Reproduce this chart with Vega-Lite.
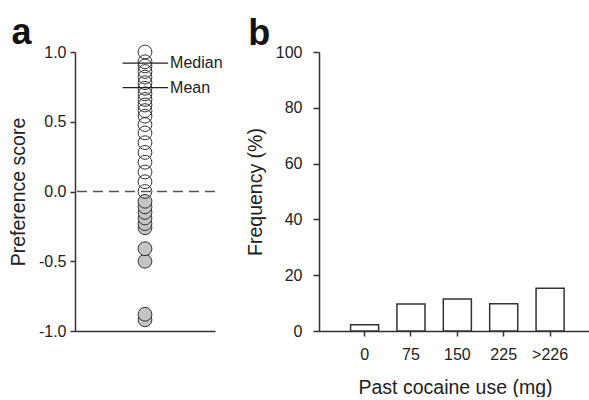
{
  "$schema": "https://vega.github.io/schema/vega-lite/v6.json",
  "padding": {"left": 8, "top": 15, "right": 0, "bottom": 0},
  "spacing": 22,
  "config": {
    "font": "Liberation Sans",
    "view": {"stroke": null},
    "locale": {"number": {"decimal": ".", "thousands": ",", "grouping": [3], "currency": ["$", ""], "minus": "-"}},
    "axis": {
      "grid": false,
      "domainColor": "#333333",
      "tickColor": "#333333",
      "domainWidth": 1.5,
      "tickWidth": 1.5,
      "tickSize": 5,
      "labelPadding": 4,
      "labelColor": "#222222",
      "titleColor": "#222222",
      "labelFontSize": 16,
      "titleFontSize": 19.5,
      "titleFontWeight": "normal"
    },
    "title": {"fontSize": 36, "fontWeight": "bold", "anchor": "start", "frame": "bounds", "color": "#111111", "baseline": "alphabetic", "offset": -9, "dx": 3}
  },
  "hconcat": [
    {
      "title": {"text": "a"},
      "width": 140,
      "height": 279,
      "layer": [
        {
          "data": {"values": [{"zero": 0}]},
          "mark": {"type": "rule", "stroke": "#555555", "strokeWidth": 1.5, "strokeDash": [10, 6]},
          "encoding": {"y": {"field": "zero", "type": "quantitative"}}
        },
        {
          "data": {"values": [
            {"grp": 1, "score": -0.92, "sign": "neg"},
            {"grp": 1, "score": -0.88, "sign": "neg"},
            {"grp": 1, "score": -0.50, "sign": "neg"},
            {"grp": 1, "score": -0.41, "sign": "neg"},
            {"grp": 1, "score": -0.26, "sign": "neg"},
            {"grp": 1, "score": -0.23, "sign": "neg"},
            {"grp": 1, "score": -0.19, "sign": "neg"},
            {"grp": 1, "score": -0.15, "sign": "neg"},
            {"grp": 1, "score": -0.11, "sign": "neg"},
            {"grp": 1, "score": -0.07, "sign": "neg"},
            {"grp": 1, "score": 0.0, "sign": "pos"},
            {"grp": 1, "score": 0.07, "sign": "pos"},
            {"grp": 1, "score": 0.14, "sign": "pos"},
            {"grp": 1, "score": 0.21, "sign": "pos"},
            {"grp": 1, "score": 0.28, "sign": "pos"},
            {"grp": 1, "score": 0.35, "sign": "pos"},
            {"grp": 1, "score": 0.42, "sign": "pos"},
            {"grp": 1, "score": 0.48, "sign": "pos"},
            {"grp": 1, "score": 0.54, "sign": "pos"},
            {"grp": 1, "score": 0.58, "sign": "pos"},
            {"grp": 1, "score": 0.62, "sign": "pos"},
            {"grp": 1, "score": 0.66, "sign": "pos"},
            {"grp": 1, "score": 0.70, "sign": "pos"},
            {"grp": 1, "score": 0.74, "sign": "pos"},
            {"grp": 1, "score": 0.78, "sign": "pos"},
            {"grp": 1, "score": 0.82, "sign": "pos"},
            {"grp": 1, "score": 0.86, "sign": "pos"},
            {"grp": 1, "score": 0.90, "sign": "pos"},
            {"grp": 1, "score": 0.93, "sign": "pos"},
            {"grp": 1, "score": 1.0, "sign": "pos"}
          ]},
          "mark": {"type": "circle", "size": 190, "stroke": "#333333", "strokeWidth": 1, "opacity": 1},
          "encoding": {
            "x": {"field": "grp", "type": "quantitative", "scale": {"domain": [0, 2]}, "axis": {"labels": false, "ticks": false, "title": null}},
            "y": {"field": "score", "type": "quantitative", "scale": {"domain": [-1, 1]}, "axis": {"values": [-1, -0.5, 0, 0.5, 1], "format": ".1f", "title": "Preference score", "titlePadding": 10}},
            "fill": {"field": "sign", "type": "nominal", "scale": {"domain": ["pos", "neg"], "range": ["transparent", "#c4c4c4"]}, "legend": null}
          }
        },
        {
          "data": {"values": [
            {"stat": "Median", "value": 0.92},
            {"stat": "Mean", "value": 0.745}
          ]},
          "layer": [
            {
              "mark": {"type": "rule", "stroke": "#222222", "strokeWidth": 1.2},
              "encoding": {
                "x": {"datum": 0.68, "type": "quantitative"},
                "x2": {"datum": 1.33},
                "y": {"field": "value", "type": "quantitative"}
              }
            },
            {
              "mark": {"type": "text", "align": "left", "baseline": "middle", "dx": 2, "fontSize": 16, "color": "#222222"},
              "encoding": {
                "x": {"datum": 1.33, "type": "quantitative"},
                "y": {"field": "value", "type": "quantitative"},
                "text": {"field": "stat"}
              }
            }
          ]
        }
      ]
    },
    {
      "title": {"text": "b"},
      "width": 272,
      "height": 279,
      "data": {"values": [
        {"use": "0", "freq": 2.2},
        {"use": "75", "freq": 9.7},
        {"use": "150", "freq": 11.5},
        {"use": "225", "freq": 9.8},
        {"use": ">226", "freq": 15.3}
      ]},
      "mark": {"type": "bar", "fill": "white", "stroke": "#333333", "strokeWidth": 1.5},
      "encoding": {
        "x": {"field": "use", "type": "nominal", "sort": null, "scale": {"paddingInner": 0.395, "paddingOuter": 0.63, "align": 0.54}, "axis": {"labelAngle": 0, "title": "Past cocaine use (mg)", "labelPadding": 10, "titlePadding": 16}},
        "y": {"field": "freq", "type": "quantitative", "scale": {"domain": [0, 100]}, "axis": {"values": [0, 20, 40, 60, 80, 100], "title": "Frequency (%)", "titlePadding": 10, "tickSize": 6, "labelPadding": 11}}
      }
    }
  ]
}
